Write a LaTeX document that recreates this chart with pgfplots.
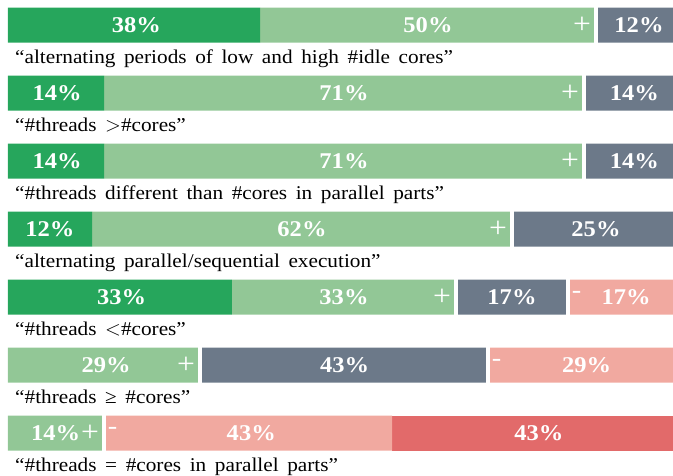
\documentclass[border=0pt]{standalone}
\usepackage{pgfplots}
\pgfplotsset{compat=1.18}
\usepackage{fontspec}
\setmainfont{Liberation Serif}[FakeStretch=1.09]
\definecolor{dg}{RGB}{38,166,92}
\definecolor{lg}{RGB}{146,199,150}
\definecolor{gy}{RGB}{108,121,137}
\definecolor{pk}{RGB}{241,169,160}
\definecolor{rd}{RGB}{226,106,106}
\newcommand{\labfont}{\fontsize{19.5}{20}\selectfont\spaceskip=0.44em\relax}
\begin{document}
\begin{tikzpicture}[
  pct/.style={text=white, font=\bfseries\fontsize{22.5}{22.5}\selectfont, inner sep=0pt, anchor=center},
  plus/.style={text=white, font=\fontsize{29}{29}\selectfont, inner sep=0pt, anchor=center, xshift=-14pt},
  minus/.style={text=white, font=\fontsize{26}{26}\selectfont, inner sep=0pt, anchor=center, xshift=8.5pt, yshift=2.5pt},
  lab/.style={text=black, font=\labfont, inner sep=0pt, anchor=base west},
]
\pgfplotsset{base/.style={
  at={(0,0)}, anchor=south west,
  scale only axis, width=672pt, height=475pt,
  xmin=0, xmax=100, ymin=0.631, ymax=7.616, y dir=reverse,
  hide axis, clip=false}}
\begin{axis}[base, xbar stacked, bar width=35.2pt]
\addplot[fill=dg, draw=none] coordinates {(37.5,1) (14.29,2) (14.29,3) (12.5,4) (33.33,5) (0,6) (0,7)};
\addplot[fill=lg, draw=none] coordinates {(50,1) (71.43,2) (71.43,3) (62.5,4) (33.33,5) (28.57,6) (14.29,7)};
\addplot[fill=gy, draw=none] coordinates {(12.5,1) (14.29,2) (14.29,3) (25,4) (16.67,5) (42.86,6) (0,7)};
\addplot[fill=pk, draw=none] coordinates {(0,1) (0,2) (0,3) (0,4) (16.67,5) (28.57,6) (42.86,7)};
\addplot[fill=rd, draw=none] coordinates {(0,1) (0,2) (0,3) (0,4) (0,5) (0,6) (42.86,7)};
\end{axis}
\begin{axis}[base]
% separators between answer groups
\addplot[draw=white, line width=4.3pt, line cap=butt, mark=none] coordinates {(87.5,0.74) (87.5,1.26)};
\addplot[draw=white, line width=4.3pt, line cap=butt, mark=none] coordinates {(85.71,1.74) (85.71,2.26)};
\addplot[draw=white, line width=4.3pt, line cap=butt, mark=none] coordinates {(85.71,2.74) (85.71,3.26)};
\addplot[draw=white, line width=4.3pt, line cap=butt, mark=none] coordinates {(75,3.74) (75,4.26)};
\addplot[draw=white, line width=4.3pt, line cap=butt, mark=none] coordinates {(66.67,4.74) (66.67,5.26)};
\addplot[draw=white, line width=4.3pt, line cap=butt, mark=none] coordinates {(83.33,4.74) (83.33,5.26)};
\addplot[draw=white, line width=4.3pt, line cap=butt, mark=none] coordinates {(28.57,5.74) (28.57,6.26)};
\addplot[draw=white, line width=4.3pt, line cap=butt, mark=none] coordinates {(71.43,5.74) (71.43,6.26)};
\addplot[draw=white, line width=4.3pt, line cap=butt, mark=none] coordinates {(14.29,6.74) (14.29,7.26)};
% percentages
\node[pct] at (axis cs:19.1,1) {38\%};
\node[pct] at (axis cs:62.5,1) {50\%};
\node[plus] at (axis cs:87.5,1) {+};
\node[pct] at (axis cs:93.9,1) {12\%};
\node[pct] at (axis cs:7.3,2) {14\%};
\node[pct] at (axis cs:50,2) {71\%};
\node[plus] at (axis cs:85.71,2) {+};
\node[pct] at (axis cs:93.2,2) {14\%};
\node[pct] at (axis cs:7.3,3) {14\%};
\node[pct] at (axis cs:50,3) {71\%};
\node[plus] at (axis cs:85.71,3) {+};
\node[pct] at (axis cs:93.2,3) {14\%};
\node[pct] at (axis cs:6.25,4) {12\%};
\node[pct] at (axis cs:43.75,4) {62\%};
\node[plus] at (axis cs:75,4) {+};
\node[pct] at (axis cs:87.5,4) {25\%};
\node[pct] at (axis cs:16.9,5) {33\%};
\node[pct] at (axis cs:50,5) {33\%};
\node[plus] at (axis cs:66.67,5) {+};
\node[pct] at (axis cs:75,5) {17\%};
\node[minus] at (axis cs:83.33,5) {-};
\node[pct] at (axis cs:92,5) {17\%};
\node[pct] at (axis cs:14.6,6) {29\%};
\node[plus] at (axis cs:28.57,6) {+};
\node[pct] at (axis cs:50.1,6) {43\%};
\node[minus] at (axis cs:71.43,6) {-};
\node[pct] at (axis cs:86.1,6) {29\%};
\node[pct] at (axis cs:7.1,7) {14\%};
\node[plus] at (axis cs:14.29,7) {+};
\node[minus] at (axis cs:14.29,7) {-};
\node[pct] at (axis cs:36.2,7) {43\%};
\node[pct] at (axis cs:79,7) {43\%};
% statements
\node[lab] at (axis cs:1.04,1.56) {``alternating periods of low and high \#idle cores''};
\node[lab] at (axis cs:1.04,2.56) {``\#threads $>$\#cores''};
\node[lab] at (axis cs:1.04,3.56) {``\#threads different than \#cores in parallel parts''};
\node[lab] at (axis cs:1.04,4.56) {``alternating parallel/sequential execution''};
\node[lab] at (axis cs:1.04,5.56) {``\#threads $<$\#cores''};
\node[lab] at (axis cs:1.04,6.56) {``\#threads ≥ \#cores''};
\node[lab] at (axis cs:1.04,7.56) {``\#threads = \#cores in parallel parts''};
\end{axis}
\pgfresetboundingbox
\path (-8pt,0pt) rectangle (665pt,475pt);
\end{tikzpicture}
\end{document}
